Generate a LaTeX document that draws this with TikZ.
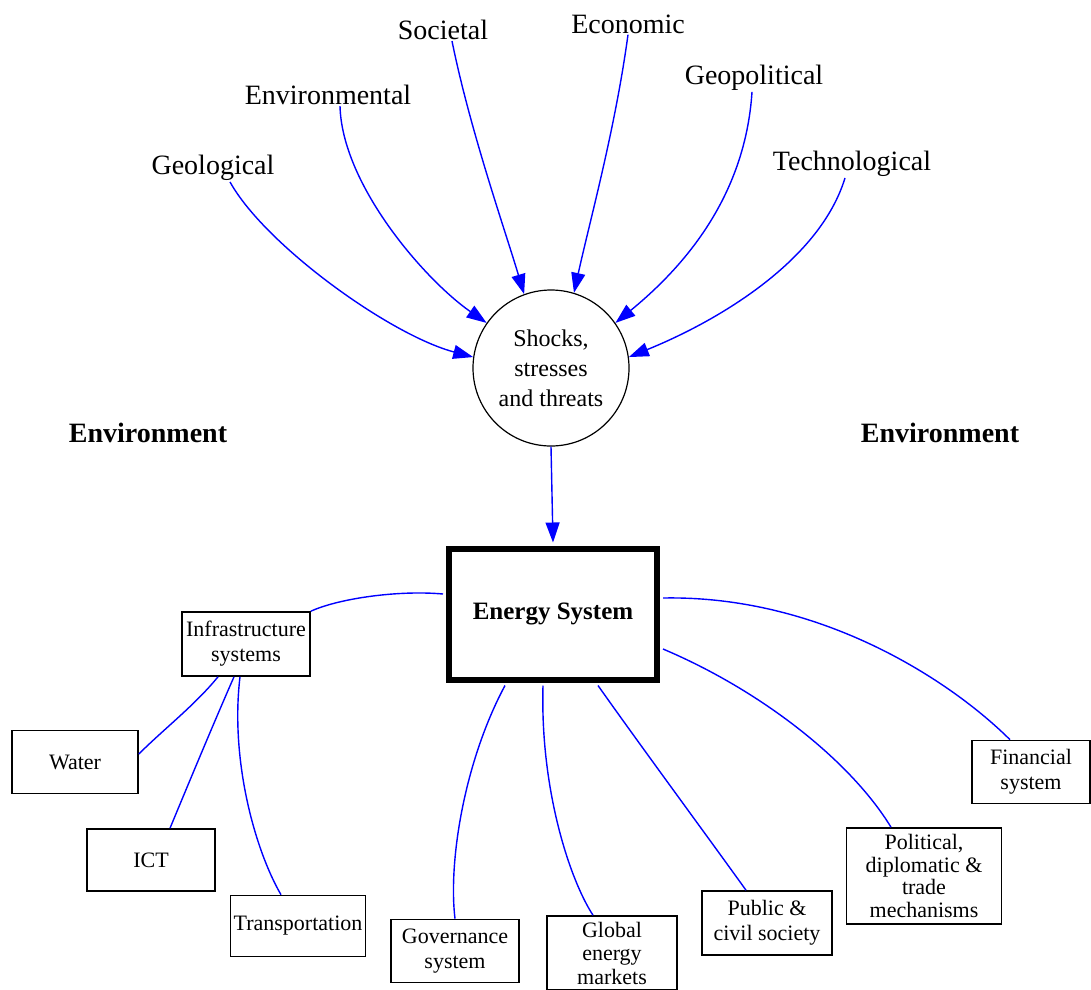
\documentclass[tikz,border=0pt]{standalone}
\usepackage{fontspec}
\setmainfont{Liberation Serif}
\usetikzlibrary{arrows.meta}
\begin{document}
\begin{tikzpicture}[x=1pt,y=-1pt,
  lbl/.style={inner sep=1pt, font=\fontsize{28}{32}\selectfont},
  envlbl/.style={inner sep=1pt, font=\bfseries\fontsize{28}{32}\selectfont},
  bx/.style={draw, line width=1.6pt, inner sep=0pt, align=center, font=\fontsize{22}{25}\selectfont},
  arr/.style={draw=blue, line width=1.4pt, -{Triangle[length=20pt,width=14pt]}},
  lnk/.style={draw=blue, line width=1.4pt}]
\useasboundingbox (0,0) rectangle (1091,989);
\begin{scope}
\clip (0,0) rectangle (1091,989);
% top labels
\node[lbl] (geo) at (213,168) {Geological};
\node[lbl] (env) at (328,95) {Environmental};
\node[lbl] (soc) at (443,30) {Societal};
\node[lbl] (eco) at (628,24) {Economic};
\node[lbl] (gpo) at (754,78) {Geopolitical};
\node[lbl] (tec) at (852,164) {Technological};
% circle
\node[circle, draw, line width=1.2pt, minimum size=156pt, inner sep=0pt, align=center,
      font=\fontsize{24}{30}\selectfont] (shk) at (551,368) {Shocks,\\stresses\\and threats};
% environment labels
\node[envlbl] (envl) at (148,433) {Environment};
\node[envlbl] (envr) at (940,433) {Environment};
% energy system
\node[draw, line width=6pt, minimum width=208pt, minimum height=131pt, inner sep=0pt,
      font=\bfseries\fontsize{25}{30}\selectfont] (es) at (553,614) {Energy System};
% boxes
\node[bx, minimum width=128pt, minimum height=64pt] (inf) at (246,644) {Infrastructure\\systems};
\node[bx, minimum width=126pt, minimum height=63pt] (wat) at (75,762) {Water};
\node[bx, minimum width=128pt, minimum height=62pt] (ict) at (151,860) {ICT};
\node[bx, minimum width=135pt, minimum height=61pt] (tra) at (298,926) {Transportation};
\node[bx, minimum width=128pt, minimum height=63pt] (gov) at (455,951) {Governance\\system};
\node[bx, minimum width=130pt, minimum height=74pt, font=\fontsize{22}{23.5}\selectfont] (glo) at (612,953) {Global\\energy\\markets};
\node[bx, minimum width=130pt, minimum height=64pt] (pub) at (767,923) {Public \&\\civil society};
\node[bx, minimum width=155pt, minimum height=96pt, font=\fontsize{22}{22.5}\selectfont] (pol) at (924,876) {Political,\\diplomatic \&\\trade\\mechanisms};
\node[bx, minimum width=118pt, minimum height=63pt] (fin) at (1031,772) {Financial\\system};
% arrows into circle
\draw[arr] ([xshift=17pt]geo.south) .. controls (265,245) and (390,335) .. (shk.172);
\draw[arr] ([xshift=12pt]env.south) .. controls (342,185) and (425,280) .. (shk.145);
\draw[arr] ([xshift=9pt]soc.south) .. controls (470,130) and (505,230) .. (shk.110);
\draw[arr] (eco.south) .. controls (615,130) and (590,220) .. (shk.73);
\draw[arr] ([xshift=-2pt]gpo.south) .. controls (745,200) and (680,270) .. (shk.35);
\draw[arr] ([xshift=-7pt]tec.south) .. controls (820,260) and (720,320) .. (shk.8);
\draw[arr] (shk.south) -- ([yshift=3pt]es.north);
% links
\draw[lnk] ([yshift=20pt,xshift=-3pt]es.west) .. controls (400,590) and (340,598) .. (inf.north east);
\draw[lnk] ([xshift=-28pt]inf.south) .. controls (195,705) and (165,728) .. ([yshift=8pt]wat.east);
\draw[lnk] ([xshift=-12pt]inf.south) .. controls (215,720) and (190,780) .. ([xshift=19pt]ict.north);
\draw[lnk] ([xshift=-6pt]inf.south) .. controls (230,760) and (255,850) .. ([xshift=-17pt]tra.north);
\draw[lnk] ([xshift=-48pt,yshift=-3pt]es.south) .. controls (465,760) and (448,860) .. (gov.north);
\draw[lnk] ([xshift=-10pt,yshift=-3pt]es.south) .. controls (540,790) and (570,880) .. ([xshift=-19pt]glo.north);
\draw[lnk] ([xshift=45pt,yshift=-3pt]es.south) .. controls (640,745) and (710,840) .. ([xshift=-21pt]pub.north);
\draw[lnk] ([xshift=3pt,yshift=-35pt]es.east) .. controls (760,690) and (850,760) .. ([xshift=-33pt]pol.north);
\draw[lnk] ([xshift=3pt,yshift=16pt]es.east) .. controls (820,595) and (950,680) .. ([xshift=-21pt]fin.north);
\end{scope}
\end{tikzpicture}
\end{document}
